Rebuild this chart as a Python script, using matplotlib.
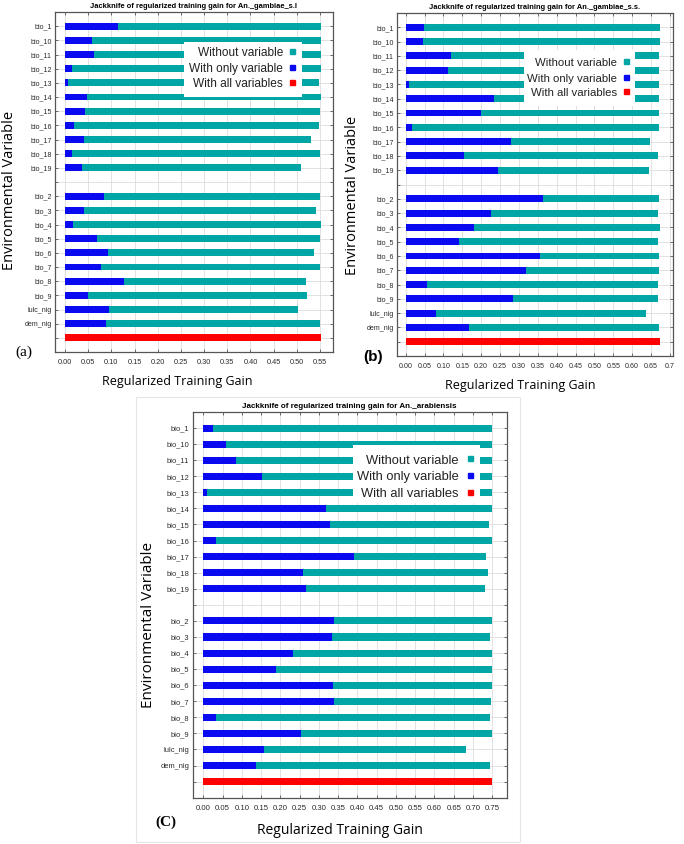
import matplotlib
matplotlib.use("Agg")
import matplotlib.pyplot as plt
from matplotlib.patches import Rectangle
import numpy as np

W, H = 684, 844

variables = ["bio_1", "bio_10", "bio_11", "bio_12", "bio_13", "bio_14", "bio_15",
             "bio_16", "bio_17", "bio_18", "bio_19", "",
             "bio_2", "bio_3", "bio_4", "bio_5", "bio_6", "bio_7", "bio_8", "bio_9",
             "lulc_nig", "dem_nig"]

# Panel (a) An. gambiae s.l
a_without = [0.552, 0.552, 0.552, 0.552, 0.548, 0.552, 0.551, 0.548, 0.531, 0.550, 0.509, None,
             0.551, 0.541, 0.553, 0.551, 0.537, 0.551, 0.520, 0.523, 0.502, 0.550]
a_only = [0.114, 0.058, 0.063, 0.015, 0.006, 0.048, 0.044, 0.019, 0.042, 0.014, 0.037, None,
          0.085, 0.042, 0.018, 0.068, 0.092, 0.078, 0.127, 0.050, 0.095, 0.088]
a_all = 0.553

# Panel (b) An. gambiae s.s.
b_without = [0.673, 0.673, 0.671, 0.672, 0.672, 0.672, 0.671, 0.672, 0.648, 0.667, 0.644, None,
             0.672, 0.667, 0.673, 0.667, 0.672, 0.672, 0.669, 0.669, 0.636, 0.671]
b_only = [0.049, 0.046, 0.119, 0.113, 0.010, 0.234, 0.200, 0.016, 0.279, 0.154, 0.245, None,
          0.364, 0.225, 0.182, 0.141, 0.355, 0.318, 0.056, 0.285, 0.079, 0.167]
b_all = 0.673

# Panel (C) An. arabiensis
c_without = [0.750, 0.750, 0.749, 0.749, 0.749, 0.748, 0.741, 0.748, 0.734, 0.738, 0.732, None,
             0.748, 0.745, 0.750, 0.748, 0.750, 0.747, 0.743, 0.748, 0.682, 0.745]
c_only = [0.024, 0.058, 0.085, 0.153, 0.009, 0.318, 0.329, 0.034, 0.392, 0.260, 0.266, None,
          0.339, 0.334, 0.234, 0.189, 0.336, 0.339, 0.033, 0.253, 0.157, 0.138]
c_all = 0.750

a_ticks = [0.00, 0.05, 0.10, 0.15, 0.20, 0.25, 0.30, 0.35, 0.40, 0.45, 0.50, 0.55]
a_ticklabels = ["0.00", "0.05", "0.10", "0.15", "0.20", "0.25", "0.30", "0.35", "0.40", "0.45", "0.50", "0.55"]
b_ticks = [0.00, 0.05, 0.10, 0.15, 0.20, 0.25, 0.30, 0.35, 0.40, 0.45, 0.50, 0.55, 0.60, 0.65, 0.70]
b_ticklabels = ["0.00", "0.05", "0.10", "0.15", "0.20", "0.25", "0.30", "0.35", "0.40", "0.45",
                "0.50", "0.55", "0.60", "0.65", "0.7"]
c_ticks = [0.00, 0.05, 0.10, 0.15, 0.20, 0.25, 0.30, 0.35, 0.40, 0.45, 0.50, 0.55, 0.60, 0.65, 0.70, 0.75]
c_ticklabels = ["0.00", "0.05", "0.10", "0.15", "0.20", "0.25", "0.30", "0.35", "0.40", "0.45",
                "0.50", "0.55", "0.60", "0.65", "0.70", "0.75"]

legend_labels = ["Without variable", "With only variable", "With all variables"]

TEAL = "#00A6A6"
BLUE = "#0A0AF0"
RED = "#FF0000"

fig = plt.figure(figsize=(W / 100, H / 100), dpi=100)
fig.patch.set_facecolor("white")


def fx(x):
    return x / W


def fy(y):
    return 1 - y / H


def make_axes(x0, y0, x1, y1):
    return fig.add_axes([fx(x0), fy(y1), (x1 - x0) / W, (y1 - y0) / H])


def draw_panel(ax, without, only, allv, ticks, ticklabels, xlim, title, barh_h,
               legend_box, text_x, marker_x, text_ys, leg_fs, title_fs, tick_fs, ytick_fs):
    n = len(variables)
    ypos = np.arange(1, n + 1)
    for y, w, o in zip(ypos, without, only):
        if w is None:
            continue
        ax.barh(y, w, height=barh_h, color=TEAL, zorder=2, linewidth=0)
        ax.barh(y, o, height=barh_h, color=BLUE, zorder=3, linewidth=0)
    ax.barh(n + 1, allv, height=barh_h, color=RED, zorder=3, linewidth=0)
    ax.set_ylim(n + 2, 0)
    ax.set_xlim(*xlim)
    ax.set_yticks(list(ypos) + [n + 1])
    ax.set_yticklabels(variables + [""], fontsize=ytick_fs, color="#2a2a2a",
                       family=["Liberation Sans", "DejaVu Sans"])
    ax.set_xticks(ticks)
    ax.set_xticklabels(ticklabels, fontsize=tick_fs, color="#2a2a2a",
                       family=["Liberation Sans", "DejaVu Sans"])
    ax.tick_params(direction="in", length=2.5, width=0.6, color="#555555",
                   top=True, right=True, pad=2.5)
    ax.tick_params(axis="x", pad=5)
    ax.grid(True, color="#dddddd", linewidth=0.6, zorder=0)
    ax.set_axisbelow(True)
    for s in ax.spines.values():
        s.set_color("#555555")
        s.set_linewidth(0.9)
    ax.set_title(title, fontsize=title_fs, fontweight="bold", pad=3,
                 family=["Liberation Sans", "DejaVu Sans"])
    # legend box
    bx0, by0, bx1, by1 = legend_box
    ax.add_patch(Rectangle((bx0, by0), bx1 - bx0, by1 - by0, transform=ax.transAxes,
                           facecolor="white", edgecolor="none", zorder=5))
    for lab, ty, col in zip(legend_labels, text_ys, [TEAL, BLUE, RED]):
        ax.text(text_x, ty, lab, transform=ax.transAxes, ha="right", va="center",
                fontsize=leg_fs, zorder=6, color="#222222",
                family=["Liberation Sans", "DejaVu Sans"])
        ax.plot([marker_x], [ty + 0.006], marker="s", markersize=3.6, color=col,
                transform=ax.transAxes, zorder=6, clip_on=False, linestyle="none")


LABEL_FONT = ["Open Sans", "DejaVu Sans"]

# Panel (a)
ax_a = make_axes(55, 12, 333, 352)
draw_panel(ax_a, a_without, a_only, a_all, a_ticks, a_ticklabels,
           (-0.0216, 0.578), "Jackknife of regularized training gain for An._gambiae_s.l", 0.48,
           (0.464, 0.75, 0.888, 0.912), 0.820, 0.853, [0.879, 0.832, 0.788],
           8.6, 5.4, 5.3, 5.1)
fig.text(fx(177), fy(381), "Regularized Training Gain", ha="center", va="center",
         fontsize=9, family=LABEL_FONT)
fig.text(fx(10), fy(190), "Environmental Variable", ha="center", va="center",
         rotation=90, fontsize=10.5, family=LABEL_FONT)
fig.text(fx(24), fy(352), "(a)", ha="center", va="center", fontsize=11,
         family=["Liberation Serif", "DejaVu Serif"])

# Panel (b)
ax_b = make_axes(397, 13, 673, 356)
draw_panel(ax_b, b_without, b_only, b_all, b_ticks, b_ticklabels,
           (-0.023, 0.708), "Jackknife of regularized training gain for An._gambiae_s.s.", 0.48,
           (0.460, 0.729, 0.862, 0.892), 0.797, 0.830, [0.854, 0.808, 0.767],
           8.2, 5.4, 5.1, 5.1)
fig.text(fx(520), fy(386), "Regularized Training Gain", ha="center", va="center",
         fontsize=9, family=LABEL_FONT)
fig.text(fx(353), fy(195), "Environmental Variable", ha="center", va="center",
         rotation=90, fontsize=10.5, family=LABEL_FONT)
fig.text(fx(373), fy(357), "(b)", ha="center", va="center", fontsize=11, fontweight="bold",
         family=["Liberation Sans", "DejaVu Sans"])

# Panel (C)
fig.add_artist(Rectangle((fx(136), fy(842)), (520 - 136) / W, (842 - 397) / H,
                         transform=fig.transFigure, facecolor="none",
                         edgecolor="#e6e6e6", linewidth=0.8))
ax_c = make_axes(192.7, 412, 506.7, 797.7)
draw_panel(ax_c, c_without, c_only, c_all, c_ticks, c_ticklabels,
           (-0.0275, 0.7874), "Jackknife of regularized training gain for An._arabiensis", 0.44,
           (0.511, 0.764, 0.915, 0.914), 0.848, 0.883, [0.874, 0.831, 0.787],
           9.3, 5.8, 5.6, 5.4)
fig.text(fx(340), fy(830), "Regularized Training Gain", ha="center", va="center",
         fontsize=10, family=LABEL_FONT)
fig.text(fx(148), fy(625), "Environmental Variable", ha="center", va="center",
         rotation=90, fontsize=11, family=LABEL_FONT)
fig.text(fx(166), fy(822), "(C)", ha="center", va="center", fontsize=11, fontweight="bold",
         family=["Liberation Serif", "DejaVu Serif"])

fig.savefig("out.png", dpi=100, facecolor="white")
